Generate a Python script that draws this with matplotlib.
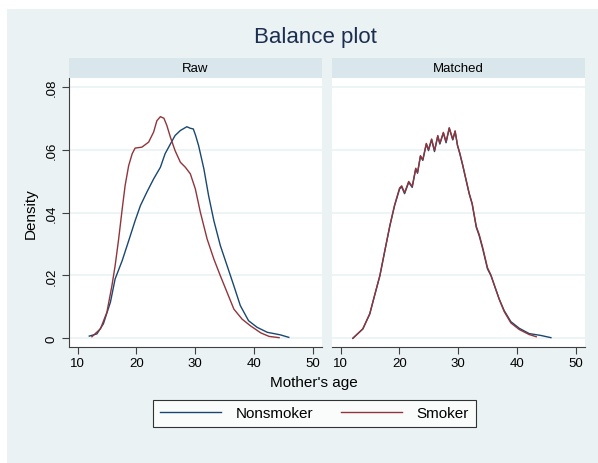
import numpy as np
import matplotlib.pyplot as plt
from matplotlib.patches import Rectangle

plt.rcParams['font.family'] = ['Liberation Sans', 'DejaVu Sans']

# Raw sample, nonsmokers (mother's age, density)
raw_non_x = [12.0, 13.3, 14.4, 15.6, 16.4, 17.6, 18.7, 19.8, 20.7, 21.8, 22.95, 24.1,
             24.9, 25.8, 26.6, 27.5, 28.6, 29.2, 29.7, 30.1, 30.6, 31.5, 32.3, 33.2,
             34.3, 35.45, 36.6, 37.7, 39.1, 40.55, 42.3, 44.5, 45.95]
raw_non_y = [0.0007, 0.0014, 0.0046, 0.0115, 0.0189, 0.0247, 0.031, 0.0374, 0.0422,
             0.0465, 0.0507, 0.0544, 0.0587, 0.0618, 0.0645, 0.0661, 0.0673, 0.0668,
             0.0666, 0.0645, 0.0613, 0.0539, 0.0454, 0.0374, 0.0295, 0.0231, 0.0167,
             0.0104, 0.0056, 0.0035, 0.0019, 0.0011, 0.0003]

# Raw sample, smokers
raw_smk_x = [12.45, 13.9, 15.0, 15.85, 16.4, 17.0, 17.6, 18.1, 18.7, 19.3, 19.8, 20.95,
             22.1, 22.95, 23.5, 24.1, 24.7, 25.2, 25.8, 26.6, 27.5, 28.35, 29.2, 30.05,
             30.9, 32.05, 33.2, 34.3, 35.45, 36.6, 38.0, 39.4, 41.2, 42.6, 44.3]
raw_smk_y = [0.0005, 0.003, 0.0083, 0.0167, 0.0231, 0.0316, 0.0411, 0.0486, 0.0549,
             0.0587, 0.0605, 0.0608, 0.0624, 0.0656, 0.0692, 0.0705, 0.0700, 0.0677,
             0.064, 0.0597, 0.056, 0.0544, 0.0523, 0.0475, 0.0401, 0.0316, 0.0252,
             0.0199, 0.0146, 0.0093, 0.0061, 0.004, 0.0017, 0.0006, 0.0002]

# Matched sample, nonsmokers
mat_non_x = [12.1, 13.8, 14.97, 15.8, 16.7, 17.5, 18.4, 19.2, 20.05, 20.4, 20.9, 21.6,
             22.2, 22.8, 23.1, 23.6, 24.0, 24.6, 24.97, 25.5, 25.99, 26.55, 26.9, 27.5,
             27.96, 28.5, 29.1, 29.5, 29.9, 30.3, 30.8, 31.25, 31.9, 32.4, 33.1, 33.6,
             34.2, 35.0, 35.6, 36.2, 37.0, 37.85, 38.98, 40.4, 42.1, 44.1, 45.8]
mat_non_y = [0.0, 0.003, 0.0077, 0.0136, 0.0199, 0.0274, 0.0358, 0.0422, 0.0475, 0.0482,
             0.046, 0.0496, 0.048, 0.0539, 0.0525, 0.0579, 0.0566, 0.0618, 0.0597,
             0.0632, 0.0594, 0.0643, 0.0618, 0.0653, 0.0622, 0.0668, 0.0631, 0.0658,
             0.0613, 0.0587, 0.0549, 0.0512, 0.0459, 0.0427, 0.0353, 0.0326, 0.0284,
             0.0221, 0.0199, 0.0167, 0.0125, 0.0088, 0.0053, 0.0032, 0.0015, 0.0009, 0.0002]

# Matched sample, smokers
mat_smk_x = [12.1, 13.8, 14.97, 15.8, 16.7, 17.5, 18.4, 19.2, 20.05, 20.4, 20.9, 21.6,
             22.2, 22.8, 23.1, 23.6, 24.0, 24.6, 24.97, 25.5, 25.99, 26.55, 26.9, 27.5,
             27.96, 28.5, 29.1, 29.5, 29.9, 30.3, 30.8, 31.25, 31.9, 32.4, 33.1, 33.6,
             34.2, 35.0, 35.6, 36.2, 37.0, 37.85, 38.98, 40.4, 42.1, 43.3]
mat_smk_y = [0.0, 0.003, 0.0078, 0.0137, 0.0200, 0.0276, 0.0359, 0.0424, 0.0478, 0.0485,
             0.0463, 0.0499, 0.0483, 0.0541, 0.0527, 0.0581, 0.0568, 0.0620, 0.0600,
             0.0634, 0.0597, 0.0645, 0.0620, 0.0655, 0.0625, 0.0670, 0.0633, 0.0660,
             0.0615, 0.0589, 0.0551, 0.0514, 0.0461, 0.0429, 0.0356, 0.0330, 0.0288,
             0.0225, 0.0201, 0.0168, 0.0124, 0.0085, 0.0049, 0.0028, 0.0012, 0.0005]

panels = ["Raw", "Matched"]
series_names = ["Nonsmoker", "Smoker"]
xticks = [10, 20, 30, 40, 50]
yticks = [0, 0.02, 0.04, 0.06, 0.08]
ytick_labels = ["0", ".02", ".04", ".06", ".08"]

navy = "#1a476f"
maroon = "#90353b"
bg = "#eaf2f3"
strip = "#d9e6eb"

W, H = 598, 464
fig = plt.figure(figsize=(W / 100, H / 100), dpi=100, facecolor="white")
fig.patches.append(Rectangle((7 / W, 0), (W - 7) / W, (H - 10) / H,
                             transform=fig.transFigure, facecolor=bg,
                             edgecolor="none", zorder=-10))

def fx(px):
    return px / W

def fy(py):
    return 1 - py / H

data = {
    "Raw": [(raw_non_x, raw_non_y), (raw_smk_x, raw_smk_y)],
    "Matched": [(mat_non_x, mat_non_y), (mat_smk_x, mat_smk_y)],
}
lefts = [69, 332]
handles = []
for i, name in enumerate(panels):
    left = lefts[i]
    ax = fig.add_axes([fx(left), fy(348), 253 / W, 269 / H])
    ax.set_facecolor("white")
    for (x, y), c in zip(data[name], [navy, maroon]):
        ln, = ax.plot(x, y, color=c, lw=1.0)
        if i == 0:
            handles.append(ln)
    ax.set_xlim(8.55, 51.6)
    ax.set_ylim(-0.00277, 0.0828)
    ax.set_xticks(xticks)
    ax.set_yticks(yticks)
    for yv in yticks:
        ax.axhline(yv, color=bg, lw=1.2, zorder=0)
    for s in ["top", "right"]:
        ax.spines[s].set_visible(False)
    ax.spines["bottom"].set_color("#404040")
    ax.spines["left"].set_color("#404040")
    ax.tick_params(axis="x", length=5, width=0.8, color="#404040",
                   labelsize=9.5, pad=2)
    if i == 0:
        ax.set_yticklabels(ytick_labels, rotation=90, va="center")
        ax.tick_params(axis="y", length=5, width=0.8, color="#404040",
                       labelsize=9.5, pad=3)
        ax.set_ylabel("Density", fontsize=11, labelpad=6)
    else:
        ax.spines["left"].set_visible(False)
        ax.tick_params(axis="y", left=False, labelleft=False)

    sax = fig.add_axes([fx(left), fy(79), 253 / W, 20 / H])
    sax.set_facecolor(strip)
    sax.set_xticks([])
    sax.set_yticks([])
    for s in sax.spines.values():
        s.set_visible(False)
    sax.text(0.5, 0.5, name, ha="center", va="center", fontsize=9.5,
             transform=sax.transAxes)

fig.text(fx(315), fy(38), "Balance plot", ha="center", va="center",
         fontsize=16, color="#1c2e50")
fig.text(fx(314), fy(383), "Mother's age", ha="center", va="center", fontsize=11)

leg = fig.legend(handles, series_names, loc="center",
                 bbox_to_anchor=(fx(314.5), fy(414.5)), ncol=2, fontsize=11,
                 handlelength=4.0, handletextpad=0.95, columnspacing=1.8,
                 frameon=True, fancybox=False, edgecolor="black",
                 borderpad=0.45)
leg.get_frame().set_linewidth(0.8)

fig.savefig("out.png", dpi=100)
